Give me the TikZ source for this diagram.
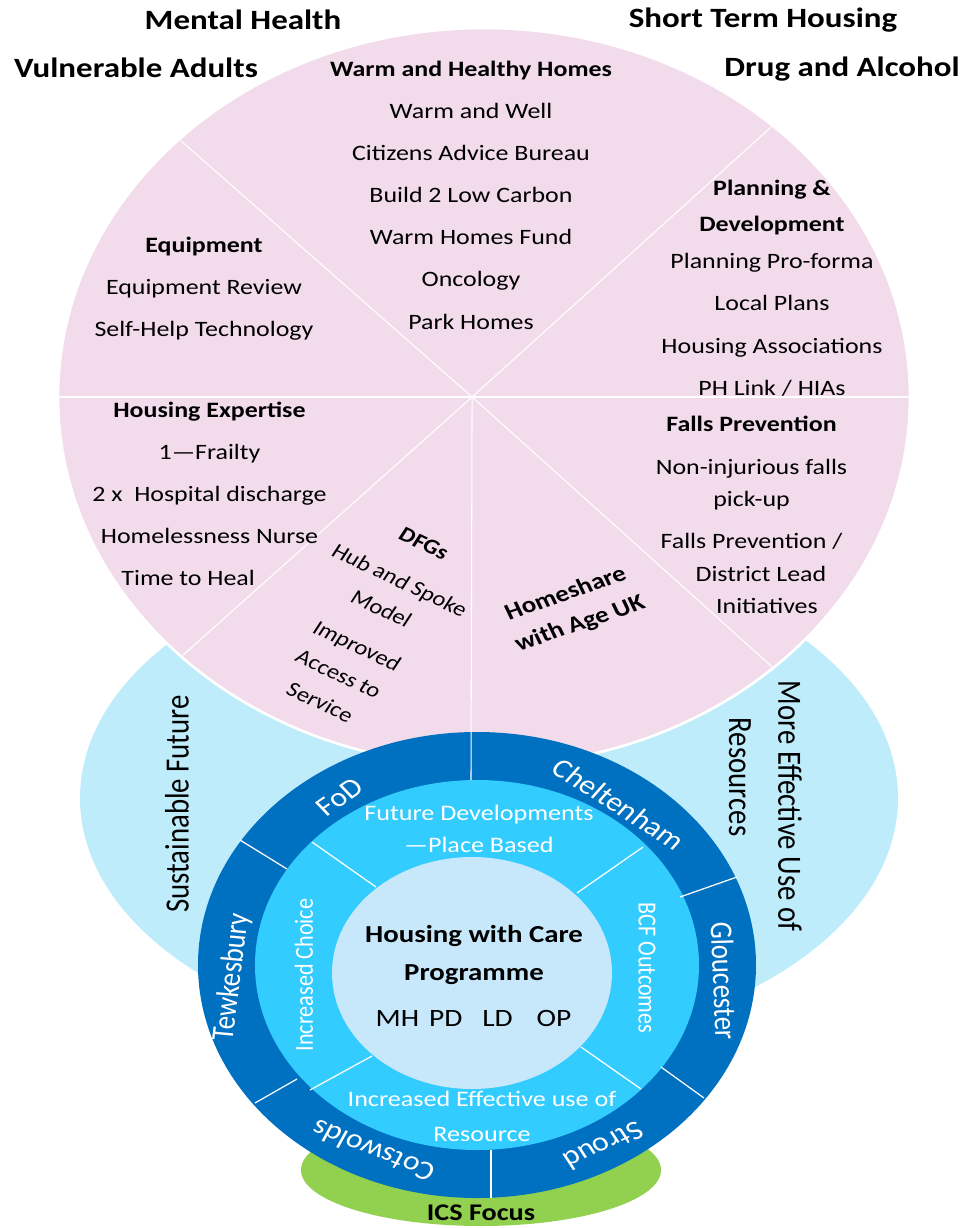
\documentclass[tikz,border=0pt]{standalone}
\usepackage{fontspec}
\setmainfont{Carlito}
\definecolor{pinkback}{RGB}{242,220,236}
\definecolor{paleblue}{RGB}{190,236,251}
\definecolor{ringdark}{RGB}{0,112,192}
\definecolor{ringcyan}{RGB}{51,204,255}
\definecolor{coreblue}{RGB}{198,232,250}
\definecolor{icsgreen}{RGB}{146,208,80}
\tikzset{
every node/.append style={transform shape}, % text is stretched with the picture
title/.style={anchor=base, font=\bfseries\fontsize{15.9}{19}\selectfont},
sector/.style={align=center, font=\fontsize{12.5}{24}\selectfont},
slanted/.style={align=center, font=\fontsize{11.9}{18.4}\selectfont},
side/.style={font=\fontsize{16.4}{19}\selectfont},
district/.style={text=white, font=\fontsize{15.3}{18}\selectfont},
outcome/.style={text=white, align=center, font=\fontsize{12.6}{18.1}\selectfont},
core/.style={align=center, font=\fontsize{13.9}{21.5}\selectfont},
spoke/.style={white, line width=0.6pt},
divider/.style={white, line width=0.7pt},
}

\begin{document}
\begin{tikzpicture}[x=0.016949cm, y=-0.02cm, xscale=1.18]
    \useasboundingbox (0,0) rectangle (966,1228);

    % background shapes
    \fill[paleblue] (489,798) ellipse [x radius=409, y radius=249];
    \fill[icsgreen] (481,1170) ellipse [x radius=180, y radius=56];
    \filldraw[fill=pinkback, draw=white, line width=1.5pt] (484,397) ellipse [x radius=426, y radius=369];

    \coordinate (hub) at (472,397);
    \begin{scope}
        \clip (484,397) ellipse [x radius=424, y radius=367];
        \draw[spoke] (0,397) -- (966,397);
        \draw[spoke] (hub) -- ++(-584,-514);
        \draw[spoke] (hub) -- ++(596,-538);
        \draw[spoke] (hub) -- ++(-578,516);
        \draw[spoke] (hub) -- ++(596,536);
    \end{scope}

    % rings
    \fill[ringdark] (477,965) ellipse [x radius=279, y radius=233];
    \fill[ringcyan] (477,965) ellipse [x radius=222, y radius=185];
    \fill[coreblue] (472,973) ellipse [x radius=140, y radius=116];

    \draw[spoke] (hub) -- (471,780);
    \draw[divider] (240,840) -- (287,869);
    \draw[divider] (737,877) -- (680,897);
    \draw[divider] (255,1103) -- (297,1079);
    \draw[divider] (704,1098) -- (661,1067);
    \draw[divider] (491,1150) -- (491,1198);
    \draw[divider] (312,842) -- (376,887);
    \draw[divider] (643,847) -- (577,893);
    \draw[divider] (310,1090) -- (372,1056);
    \draw[divider] (641,1089) -- (581,1047);

    % corner titles
    \node[title] (mh) at (243,29) {Mental Health};
    \node[title] (va) at (136,77) {Vulnerable Adults};
    \node[title] (sth) at (763,27) {Short Term Housing};
    \node[title] (da) at (842,76) {Drug and Alcohol};

    % pink sectors
    \node[sector] (warm) at (471,195) {\textbf{Warm and Healthy Homes}\\ Warm and Well\\ Citizens Advice Bureau\\ Build 2 Low Carbon\\ Warm Homes Fund\\ Oncology\\ Park Homes};
    \node[sector] (equip) at (204,289) {\textbf{Equipment}\\ Equipment Review\\ Self-Help Technology};
    \node[sector] (plan) at (772,288) {\textbf{Planning \&}\\[-3.4pt] \textbf{Development}\\[-2.8pt] Planning Pro-forma\\ Local Plans\\ Housing Associations\\ PH Link / HIAs};
    \node[sector] (expert) at (209.5,494) {\textbf{Housing Expertise}\\ 1—Frailty\\ 2 x~ Hospital discharge\\ Homelessness Nurse\hspace*{7.2pt}\\ Time to Heal\hspace*{20.6pt}};
    \node[sector, font=\fontsize{12.5}{18.4}\selectfont] (falls) at (751.5,515) {\textbf{Falls Prevention}\\[5.7pt] Non-injurious falls\\ pick-up\\[5.7pt] Falls Prevention /\\ \hspace*{9.1pt}District Lead\\ \hspace*{14.9pt}Initiatives};
    \node[slanted, rotate=-29] (dfg) at (372,623) {\textbf{DFGs}\\[5.7pt] Hub and Spoke\\ Model\\[5.7pt] Improved\\ Access to\\ Service};
    \node[slanted, rotate=22, font=\bfseries\fontsize{13}{18.4}\selectfont] (homeshare) at (573,609) {Homeshare\\ with Age UK};

    % pale blue band
    \node[side, rotate=90] (sustain) at (177,804) {Sustainable Future};
    \node[side, rotate=-90] (effective) at (790,806) {More Effective Use of};
    \node[side, rotate=-90] (resources) at (740,777) {Resources};

    % districts
    \node[district, rotate=39] (fod) at (340,797) {FoD};
    \node[district, rotate=-37] (chelt) at (619,804) {Cheltenham};
    \node[district, rotate=-88] (glos) at (724,981) {Gloucester};
    \node[district, rotate=209] (stroud) at (604,1146) {Stroud};
    \node[district, rotate=155] (cots) at (373,1151) {Cotswolds};
    \node[district, rotate=84] (tewk) at (232,977) {Tewkesbury};

    % outcomes
    \node[outcome] (future) at (479,829) {Future Developments\\ —Place Based};
    \node[outcome, rotate=90] (choice) at (304,975) {Increased Choice};
    \node[outcome, rotate=-90] (bcf) at (647,968) {BCF Outcomes};
    \node[outcome, font=\fontsize{12.6}{19.8}\selectfont] (resource) at (482,1116) {Increased Effective use of\\ Resource};

    % centre
    \node[core] (care) at (474,955) {\textbf{Housing with Care}\\ \textbf{Programme}};
    \node[font=\fontsize{14.2}{17}\selectfont] (groups) at (473.5,1018) {MH\hspace{4.8pt}PD\hspace{9.6pt}LD\hspace{11.5pt}OP};
    \node[font=\bfseries\fontsize{13.6}{16}\selectfont] (ics) at (481,1213) {ICS Focus};

\end{tikzpicture}
\end{document}
